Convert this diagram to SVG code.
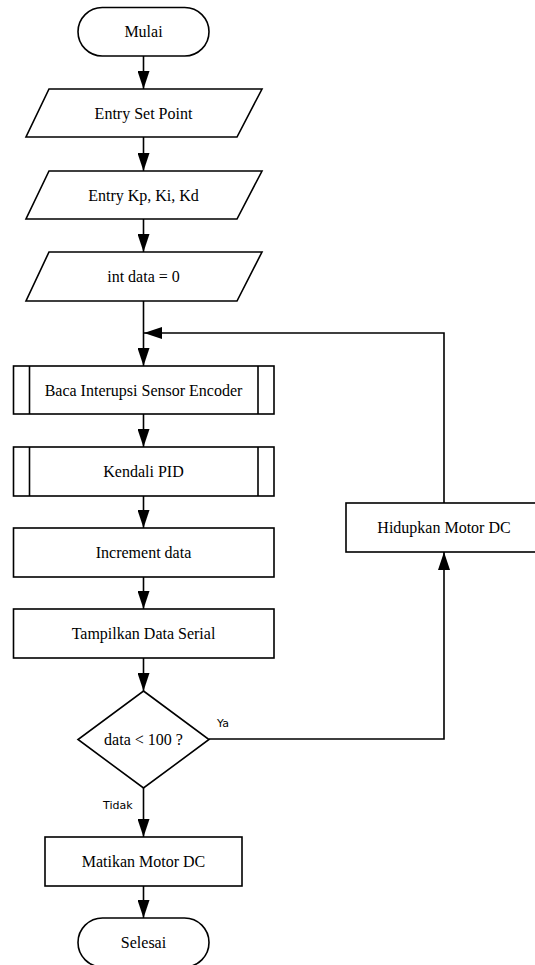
<svg xmlns="http://www.w3.org/2000/svg" width="535" height="965" viewBox="0 0 535 965">
  <style>
    .shape { fill: #ffffff; stroke: #000000; stroke-width: 1.6; }
    .line { fill: none; stroke: #000000; stroke-width: 1.6; }
    .label { font-family: "Liberation Serif", "Times New Roman", serif; font-size: 16px; fill: #000000; text-anchor: middle; }
    .edge-label { font-family: "DejaVu Sans", "Liberation Sans", sans-serif; font-size: 11px; fill: #000000; }
  </style>
  <defs>
    <marker id="head" viewBox="0 0 18 12" refX="18" refY="6" markerWidth="18" markerHeight="12" markerUnits="userSpaceOnUse" orient="auto">
      <path d="M0,0 L18,6 L0,12 Z" fill="#000000"/>
    </marker>
  </defs>
  <rect width="535" height="965" fill="#ffffff"/>

  <!-- connectors -->
  <g id="connectors">
    <line class="line" x1="143.5" y1="56" x2="143.5" y2="89" marker-end="url(#head)"/>
    <line class="line" x1="143.5" y1="137" x2="143.5" y2="171" marker-end="url(#head)"/>
    <line class="line" x1="143.5" y1="219" x2="143.5" y2="252" marker-end="url(#head)"/>
    <line class="line" x1="143.5" y1="301" x2="143.5" y2="366" marker-end="url(#head)"/>
    <line class="line" x1="143.5" y1="414" x2="143.5" y2="447" marker-end="url(#head)"/>
    <line class="line" x1="143.5" y1="496" x2="143.5" y2="528" marker-end="url(#head)"/>
    <line class="line" x1="143.5" y1="577" x2="143.5" y2="609" marker-end="url(#head)"/>
    <line class="line" x1="143.5" y1="658" x2="143.5" y2="691" marker-end="url(#head)"/>
    <line class="line" x1="143.5" y1="788" x2="143.5" y2="837" marker-end="url(#head)"/>
    <line class="line" x1="143.5" y1="886" x2="143.5" y2="918" marker-end="url(#head)"/>
    <!-- "Ya" branch to Hidupkan Motor DC -->
    <polyline class="line" points="209,739 444,739 444,552" marker-end="url(#head)"/>
    <!-- loop back into the main line -->
    <polyline class="line" points="444,503 444,333 144,333" marker-end="url(#head)"/>
    <text class="edge-label" x="217" y="727">Ya</text>
    <text class="edge-label" x="103" y="809">Tidak</text>
  </g>

  <g id="mulai">
    <rect class="shape" x="78" y="7.5" width="131" height="48.5" rx="24.25" ry="24.25"/>
    <text class="label" x="143.5" y="37">Mulai</text>
  </g>

  <g id="entry-set-point">
    <polygon class="shape" points="49,89 262,89 237,137 26,137"/>
    <text class="label" x="143.5" y="118.5">Entry Set Point</text>
  </g>

  <g id="entry-kp-ki-kd">
    <polygon class="shape" points="49,171 262,171 237,219 26,219"/>
    <text class="label" x="143.5" y="200.5">Entry Kp, Ki, Kd</text>
  </g>

  <g id="int-data">
    <polygon class="shape" points="49,252 262,252 237,301 26,301"/>
    <text class="label" x="143.5" y="281.5">int data = 0</text>
  </g>

  <g id="baca-interupsi">
    <rect class="shape" x="13.5" y="366" width="260.5" height="48"/>
    <line class="line" x1="29.5" y1="366" x2="29.5" y2="414"/>
    <line class="line" x1="258" y1="366" x2="258" y2="414"/>
    <text class="label" x="143.5" y="395.5">Baca Interupsi Sensor Encoder</text>
  </g>

  <g id="kendali-pid">
    <rect class="shape" x="13.5" y="447" width="260.5" height="49"/>
    <line class="line" x1="29.5" y1="447" x2="29.5" y2="496"/>
    <line class="line" x1="258" y1="447" x2="258" y2="496"/>
    <text class="label" x="143.5" y="476.5">Kendali PID</text>
  </g>

  <g id="increment-data">
    <rect class="shape" x="13.5" y="528" width="260.5" height="49"/>
    <text class="label" x="143.5" y="557.5">Increment data</text>
  </g>

  <g id="tampilkan-data">
    <rect class="shape" x="13.5" y="609" width="260.5" height="49"/>
    <text class="label" x="143.5" y="638.5">Tampilkan Data Serial</text>
  </g>

  <g id="cek-data">
    <polygon class="shape" points="143.5,691 209,739.5 143.5,788 78,739.5"/>
    <text class="label" x="143.5" y="744.5">data &lt; 100 ?</text>
  </g>

  <g id="hidupkan-motor">
    <rect class="shape" x="346" y="503" width="196" height="49"/>
    <text class="label" x="444" y="532.5">Hidupkan Motor DC</text>
  </g>

  <g id="matikan-motor">
    <rect class="shape" x="45" y="837" width="197" height="49"/>
    <text class="label" x="143.5" y="866.5">Matikan Motor DC</text>
  </g>

  <g id="selesai">
    <rect class="shape" x="78" y="918" width="131" height="49" rx="24.5" ry="24.5"/>
    <text class="label" x="143.5" y="947.5">Selesai</text>
  </g>
</svg>
